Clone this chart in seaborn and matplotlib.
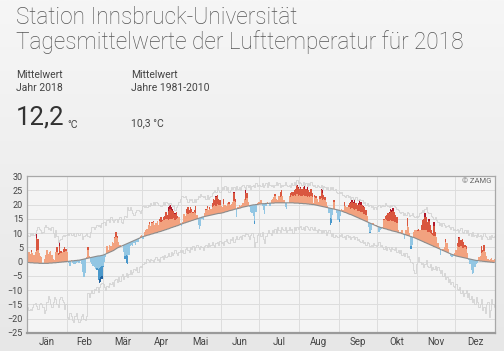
#! /usr/bin/python3
# -*- coding:utf-8 -*-
"""
Tagesmittelwerte der Lufttemperatur 2018, Station Innsbruck-Universität,
mit Klimamittel 1981-2010 und den höchsten / tiefsten Tagesmitteln.
"""
import numpy as np
import pandas as pd
import seaborn as sns
import matplotlib.pyplot as plt
from matplotlib.colors import LinearSegmentedColormap

months = ['Jän', 'Feb', 'Mär', 'Apr', 'Mai', 'Jun', 'Jul', 'Aug', 'Sep', 'Okt', 'Nov', 'Dez']
month_len = [31, 28, 31, 30, 31, 30, 31, 31, 30, 31, 30, 31]
y_ticks = list(range(-25, 31, 5))

# Tagesmittel 2018
temp_2018 = [
    3.0, 3.5, 2.8, 4.0, 3.2, 2.5, 3.5, 9.7, 8.0, 3.2, 2.0, 1.5, -1.0, 1.0, 2.5, 4.2, 2.7, 3.5, 3.9, 2.5, 1.0, 0.5, 3.5, 5.0, 3.0, 6.8, 3.8, 3.5, 4.5, 5.0, 4.5,  # Jän
    3.5, -0.5, -1.5, 0.5, -0.5, -1.0, -0.8, -0.5, 0.0, -0.5, 0.2, -1.0, -3.5, -5.3, -4.0, 1.5, 5.0, 2.0, 0.0, -1.0, -1.5, -2.0, -2.5, -3.0, -6.5, -7.6, -7.3, -6.0,  # Feb
    -2.0, 0.0, 1.5, 5.5, 4.0, 6.0, 5.5, 7.0, 6.5, 8.5, 10.5, 9.0, 7.0, 6.0, 5.5, 5.8, 3.5, 1.0, -0.5, -0.8, 2.5, 5.5, 6.0, 5.5, 6.5, 6.0, 7.0, 7.0, 7.8, 9.0, 9.5,  # Mär
    8.0, 10.5, 11.0, 11.5, 13.0, 13.8, 12.5, 14.0, 14.4, 13.0, 13.5, 14.2, 12.8, 15.0, 15.5, 14.5, 15.5, 16.0, 17.3, 16.5, 19.0, 19.8, 19.0, 18.5, 17.9, 17.0, 17.5, 16.0, 15.5, 13.5,  # Apr
    12.5, 14.0, 16.7, 16.0, 18.5, 19.0, 18.0, 19.2, 18.5, 17.5, 18.0, 19.6, 16.5, 13.0, 11.5, 12.5, 15.0, 14.5, 17.0, 18.5, 19.5, 18.0, 19.0, 18.5, 20.5, 22.0, 21.5, 23.0, 23.2, 22.0, 21.5,  # Mai
    19.5, 19.0, 22.0, 20.0, 19.5, 20.5, 20.8, 20.0, 20.2, 21.0, 24.3, 22.0, 15.5, 19.0, 20.0, 19.5, 20.0, 20.5, 22.0, 25.0, 24.0, 21.0, 19.0, 17.5, 17.0, 16.0, 13.3, 17.5, 20.5, 21.0,  # Jun
    21.0, 21.5, 19.5, 18.0, 16.7, 19.5, 21.0, 20.5, 19.5, 21.5, 22.0, 22.5, 23.7, 22.0, 21.5, 23.0, 24.5, 25.0, 23.0, 21.5, 19.0, 18.5, 20.5, 23.0, 24.0, 24.5, 24.5, 25.0, 25.5, 26.8, 26.0,  # Jul
    25.5, 26.0, 25.5, 26.0, 26.5, 25.5, 26.0, 25.0, 24.5, 25.5, 24.0, 20.5, 23.5, 23.0, 22.0, 21.0, 23.0, 25.5, 25.0, 23.5, 22.5, 21.0, 19.5, 17.0, 13.0, 13.5, 16.5, 21.5, 18.5, 17.0, 14.5,  # Aug
    13.9, 16.0, 18.5, 18.0, 21.0, 19.5, 19.0, 20.0, 20.5, 21.0, 21.6, 21.0, 21.5, 20.5, 20.0, 20.5, 21.5, 21.0, 20.0, 19.5, 19.0, 18.0, 16.0, 12.0, 10.0, 11.0, 13.5, 13.5, 13.0, 13.0,  # Sep
    12.5, 10.5, 11.0, 11.5, 12.0, 15.0, 16.0, 16.5, 17.0, 17.5, 18.5, 18.0, 18.7, 17.5, 16.5, 15.5, 11.0, 10.5, 10.5, 11.0, 9.5, 7.8, 11.0, 15.2, 12.0, 10.0, 4.5, 6.0, 10.5, 11.0, 11.0,  # Okt
    11.0, 11.5, 11.0, 13.0, 14.5, 15.0, 16.9, 15.5, 14.0, 15.0, 13.0, 11.0, 10.0, 14.0, 10.5, 8.5, 6.5, 5.0, 2.3, 4.0, 4.5, 5.0, 7.8, 6.5, 4.5, 3.0, 2.0, 1.5, 1.8, 3.0,  # Nov
    4.0, 6.5, 8.5, 8.8, 7.5, 8.0, 7.0, 6.0, 5.5, 3.0, 0.5, -1.0, -3.0, -4.5, -4.0, -2.0, -1.0, -0.5, 1.5, 2.0, 5.5, 4.0, 5.8, 3.5, 2.0, 1.0, 0.5, 1.0, 1.2, 0.5, 1.0,  # Dez
]

# Klimamittel 1981-2010
clim_mean = [
    -0.3, -0.3, -0.4, -0.4, -0.4, -0.5, -0.5, -0.5, -0.5, -0.6, -0.6, -0.6, -0.6, -0.6, -0.6, -0.6, -0.6, -0.5, -0.5, -0.5, -0.4, -0.4, -0.4, -0.3, -0.3, -0.2, -0.2, -0.1, -0.1, 0.0, 0.0,
    0.1, 0.1, 0.2, 0.2, 0.3, 0.3, 0.4, 0.4, 0.5, 0.5, 0.6, 0.7, 0.8, 0.9, 1.0, 1.1, 1.2, 1.3, 1.4, 1.5, 1.6, 1.7, 1.8, 1.9, 2.0, 2.0, 2.1, 2.2,
    2.3, 2.5, 2.7, 2.9, 3.1, 3.3, 3.5, 3.7, 3.9, 4.2, 4.5, 4.8, 5.0, 5.2, 5.4, 5.6, 5.8, 6.0, 6.2, 6.4, 6.6, 6.8, 7.0, 7.2, 7.4, 7.6, 7.8, 8.0, 8.2, 8.4, 8.6,
    8.8, 8.9, 9.0, 9.2, 9.3, 9.4, 9.6, 9.7, 9.8, 10.0, 10.1, 10.2, 10.4, 10.5, 10.6, 10.8, 10.9, 11.1, 11.2, 11.4, 11.5, 11.7, 11.9, 12.0, 12.2, 12.3, 12.5, 12.6, 12.8, 13.0,
    13.2, 13.3, 13.5, 13.6, 13.8, 13.9, 14.1, 14.2, 14.4, 14.5, 14.7, 14.8, 15.0, 15.1, 15.3, 15.4, 15.6, 15.7, 15.8, 15.9, 16.0, 16.1, 16.2, 16.3, 16.4, 16.5, 16.6, 16.7, 16.8, 16.9, 16.9,
    17.0, 17.1, 17.2, 17.4, 17.5, 17.6, 17.8, 17.9, 18.0, 18.1, 18.3, 18.4, 18.5, 18.6, 18.7, 18.8, 19.0, 19.1, 19.2, 19.3, 19.4, 19.5, 19.6, 19.7, 19.8, 19.9, 19.9, 20.0, 20.0, 20.1,
    20.2, 20.2, 20.3, 20.3, 20.3, 20.4, 20.4, 20.4, 20.5, 20.5, 20.5, 20.5, 20.6, 20.6, 20.6, 20.6, 20.6, 20.6, 20.6, 20.6, 20.6, 20.6, 20.6, 20.6, 20.6, 20.6, 20.6, 20.5, 20.5, 20.5, 20.5,
    20.4, 20.4, 20.4, 20.3, 20.3, 20.3, 20.2, 20.2, 20.1, 20.1, 20.0, 20.0, 19.9, 19.8, 19.7, 19.6, 19.5, 19.4, 19.3, 19.2, 19.1, 19.0, 18.9, 18.8, 18.7, 18.6, 18.5, 18.4, 18.3, 18.2, 18.1,
    18.0, 17.8, 17.7, 17.5, 17.3, 17.2, 17.0, 16.8, 16.6, 16.5, 16.3, 16.1, 15.9, 15.7, 15.5, 15.3, 15.1, 14.9, 14.7, 14.5, 14.3, 14.1, 13.9, 13.7, 13.5, 13.3, 13.1, 12.9, 12.7, 12.5,
    12.3, 12.2, 12.0, 11.9, 11.8, 11.6, 11.5, 11.4, 11.2, 11.1, 11.0, 10.8, 10.7, 10.6, 10.5, 10.4, 10.2, 10.1, 10.0, 9.8, 9.7, 9.5, 9.4, 9.2, 9.1, 8.9, 8.8, 8.6, 8.5, 8.3, 8.1,
    7.9, 7.7, 7.5, 7.3, 7.1, 6.9, 6.7, 6.5, 6.3, 6.1, 5.9, 5.7, 5.5, 5.3, 5.1, 4.9, 4.7, 4.5, 4.3, 4.1, 3.9, 3.7, 3.5, 3.3, 3.1, 2.9, 2.7, 2.5, 2.4, 2.2,
    2.0, 1.9, 1.8, 1.7, 1.6, 1.5, 1.4, 1.3, 1.2, 1.1, 1.0, 0.9, 0.8, 0.7, 0.6, 0.5, 0.4, 0.4, 0.3, 0.2, 0.2, 0.1, 0.1, 0.0, 0.0, -0.1, -0.1, -0.2, -0.2, -0.3, -0.3,
]

# höchstes Tagesmittel 1981-2010
clim_max = [
    9.5, 9, 10, 9.5, 10, 9.5, 10, 11, 12, 11.5, 11, 10, 10.5, 12, 13, 12, 11.5, 11.7, 11, 12, 10, 8.5, 11, 9, 7, 7.5, 8, 9, 9.5, 9, 9.5,
    10, 9.5, 10, 9.5, 9.5, 10, 9, 10, 10, 9.5, 10, 10, 8, 9, 9.5, 10, 9, 8.5, 10.5, 12, 12.3, 11.5, 12, 13, 12.5, 13, 12, 13.5,
    13.8, 14, 13, 14.5, 15, 14, 15.5, 14.5, 14, 14.5, 15, 14, 15, 15.5, 14, 13.5, 15, 16, 15.5, 19, 18, 19, 18, 17, 16.5, 17.5, 18, 18, 17.9, 17, 18,
    19.5, 19, 19.5, 19, 20, 19.5, 20.5, 20, 21, 20, 21, 20.5, 20, 20, 19.5, 20, 21, 20, 21, 20.5, 20, 20.5, 20, 19.5, 20, 18, 19, 20, 21, 22,
    23, 23, 22.5, 23, 22, 21, 22, 21.5, 22, 21, 22, 21, 22, 23, 22.5, 23.7, 23, 22.5, 23, 22, 23.5, 22, 22.5, 23, 24, 24.5, 25, 24.5, 26, 25, 24.5,
    25, 26, 25.5, 26.6, 25, 26, 24.3, 25, 26, 25.5, 26, 25, 26.5, 25.5, 26, 25, 26.5, 27, 26, 25.5, 27, 26, 27, 25.5, 26.5, 27, 26, 27.5, 26.5, 27,
    27, 26.5, 27.5, 26, 27, 27.5, 26, 28, 27, 26.5, 27, 26, 27, 28, 27, 27.5, 26, 27, 26.5, 27, 28, 27, 26.5, 27, 26, 27.5, 27, 28, 27, 28.5, 27.5,
    28, 27.5, 27, 28, 27, 27.5, 26.5, 27.5, 27, 28, 27, 26.5, 27, 26, 27, 26.5, 26, 27, 25.5, 26.5, 26, 25.5, 26, 25, 26, 25.5, 26.3, 25, 25.5, 24.5, 24,
    24.5, 24, 24.5, 23.5, 23, 22.8, 23.5, 22.5, 23, 22, 22.5, 22, 22, 22.5, 21.5, 21.5, 22, 21.5, 21.6, 20.5, 21, 20, 20.5, 19.5, 20, 19, 19.5, 18.5, 19, 18.5,
    19.5, 20, 19, 19.5, 20, 19.5, 20.5, 20, 19.5, 19, 20, 19.5, 20, 19.5, 19, 18.5, 18, 17.5, 17, 17.5, 16.5, 17, 16.5, 17.5, 17, 16, 16.5, 17, 16, 15.5, 16,
    15.5, 16, 17, 17.5, 18, 17.5, 18.5, 19, 17.5, 17, 17, 16, 15.5, 15, 15.5, 14.5, 14, 13, 13.5, 12.5, 13.4, 13, 12, 12.5, 13, 12, 11.5, 12, 11, 11.5,
    11, 11.5, 10.5, 11, 11.7, 10.5, 10, 11, 10, 11, 9.5, 10, 9, 10.5, 9, 9.5, 8.5, 10, 9, 9.5, 8, 9, 10, 9, 8.5, 8, 9, 8, 9.5, 8.5, 9,
]

# tiefstes Tagesmittel 1981-2010
clim_min = [
    -16, -17, -16.5, -17, -16, -15, -14.5, -15.5, -16.5, -15, -14.5, -15, -16, -18, -17, -14, -12, -13, -15, -16, -14, -12.5, -13, -15, -16, -13, -12.5, -13.5, -14, -16.5, -15,
    -19.5, -20, -18, -19, -20.5, -21, -19, -18, -20, -21, -20.5, -19, -18.5, -20, -20.5, -19, -11, -12.5, -11, -10, -11, -9.5, -10, -9, -10.5, -9, -8, -7.5,
    -8, -9, -10, -8.5, -9, -7.5, -8, -7, -8.5, -6.5, -6, -7, -5.5, -6.8, -5, -4.5, -6, -5, -4, -5.5, -4.5, -3, -4.3, -3.5, -2.5, -3, -2, -3.5, -2, -1.5, -2,
    -1, 0, -0.5, 1, 0.5, -0.2, 1, 0.5, 0, 1, 1.5, 0.5, 1, 0, 1.5, 2, 1, 2.5, 1.5, 2, 3, 2, 3.5, 2.5, 3, 4, 3, 2.5, 3.5, 4,
    3.5, 4, 3, 4.5, 5, 4, 3.5, 5, 4.5, 5.5, 4, 5, 6, 5, 4.5, 5.6, 5, 4, 5.5, 6, 5, 6.5, 5.5, 6, 7, 6, 5, 6.5, 7, 6, 7.3,
    6.5, 7, 6, 7.3, 8, 7, 6.5, 8, 7.5, 8.5, 7, 8, 9, 8, 8.5, 9, 8, 9.5, 9, 10, 9.7, 9, 8, 9.5, 10, 8.5, 5, 7, 9.5, 10,
    10, 9, 10.5, 8, 6.5, 9, 10, 11, 10, 9.5, 11, 10.5, 11.5, 10, 12, 11, 10.5, 12, 11.5, 11, 12, 10.5, 11, 12, 11, 11.5, 10, 12, 11, 12, 11.5,
    12, 12.5, 11.5, 12, 11, 12.5, 12, 11.5, 11, 12, 11.5, 11, 12, 11, 10.5, 11.5, 11, 10, 11, 10.5, 11, 9.5, 10.5, 11, 10, 9, 10, 8.5, 9.5, 9, 8.5,
    9.5, 9, 9.7, 8.5, 9, 8, 9.5, 8.5, 9, 8, 8.5, 9, 8, 8.5, 7.5, 8, 7.3, 7, 7.5, 6.5, 7, 6, 7, 6.5, 5.6, 6, 5.5, 6.5, 6, 5.6,
    6, 7, 5.5, 6, 5, 4.5, 5.5, 4, 5, 4.5, 3.7, 5, 4.5, 4, 5, 3.5, 4, 3, 4, 2.5, 3, 2, 3, 1.5, 2, 1, 0, -0.5, -3, -4, -1,
    0, 1.6, 0, -1, -0.5, -2, -1, 0.5, -1.5, -2, -1, -3, -2, -2.5, -1.5, -3, -2, -3, -4, -3, -5, -4, -6, -5.5, -7, -6, -8, -7, -8.5, -9,
    -8, -9.5, -10, -9, -11, -10, -12, -11, -10, -12.5, -11, -13, -12, -14, -13, -15, -12.5, -14, -16, -15, -13, -17, -16, -18, -15, -14, -19.4, -17, -13, -15, -16,
]

warm_colors = ['#f2a27f', '#d9563f', '#b0162a']
cold_colors = ['#92c6e3', '#4a98cb', '#21629f']
band_edges = [(0.0, 0.38), (0.38, 0.75), (0.75, 99.0)]

df = pd.DataFrame({
    'tag': np.arange(len(temp_2018)) + 0.5,
    'wert': temp_2018,
    'mittel': clim_mean,
    'hoch': clim_max,
    'tief': clim_min,
})
spread_up = df['hoch'] - df['mittel']
spread_dn = df['mittel'] - df['tief']

sns.set_style('white')
plt.rcParams['font.family'] = ['Roboto', 'DejaVu Sans']

fig = plt.figure(figsize=(5.04, 3.51), dpi=100)

# heller Hintergrundverlauf
bg = fig.add_axes([0, 0, 1, 1], zorder=-10)
bg_cmap = LinearSegmentedColormap.from_list('bg', ['#f6f6f6', '#e7e7e7'])
bg.imshow(np.linspace(0, 1, 256).reshape(-1, 1), aspect='auto', cmap=bg_cmap, extent=[0, 1, 0, 1])
bg.axis('off')

ax = fig.add_axes([27 / 504, 1 - 333 / 351, 468 / 504, 157 / 351])
ax.set_facecolor('#f4f4f4')
ax.set_axisbelow(True)

# Abweichungen vom Klimamittel, gestuft nach Anteil an der Spannweite
for (f0, f1), col in zip(band_edges, warm_colors):
    lo = df['mittel'] + f0 * spread_up
    hi = np.minimum(df['wert'], df['mittel'] + f1 * spread_up)
    ax.bar(df['tag'], (hi - lo).clip(lower=0), bottom=lo, width=1.0, color=col, linewidth=0)
for (f0, f1), col in zip(band_edges, cold_colors):
    hi = df['mittel'] - f0 * spread_dn
    lo = np.maximum(df['wert'], df['mittel'] - f1 * spread_dn)
    ax.bar(df['tag'], (hi - lo).clip(lower=0), bottom=lo, width=1.0, color=col, linewidth=0)

sns.lineplot(data=df, x='tag', y='hoch', color='#d2d2d2', lw=0.6, drawstyle='steps-mid', ax=ax)
sns.lineplot(data=df, x='tag', y='tief', color='#d2d2d2', lw=0.6, drawstyle='steps-mid', ax=ax)
sns.lineplot(data=df, x='tag', y='mittel', color='#8c8c8c', lw=0.8, ax=ax)

starts = np.cumsum([0] + month_len[:-1])
centers = starts + np.array(month_len) / 2
ax.set_xlim(0, 365)
ax.set_ylim(-25, 30)
ax.set_xticks(centers, months)
ax.set_xticks(starts[1:], minor=True)
ax.set_yticks(y_ticks)
ax.grid(which='minor', axis='x', color='#dddddd', lw=0.7)
ax.grid(which='major', axis='y', color='#dddddd', lw=0.7)
ax.tick_params(axis='x', which='both', length=0, labelsize=7, colors='#444444', pad=3)
ax.tick_params(axis='y', length=0, labelsize=6.5, colors='#444444', pad=3)
ax.set_xlabel('')
ax.set_ylabel('')
for side in ['left', 'right', 'top']:
    ax.spines[side].set_color('#a8a8a8')
    ax.spines[side].set_linewidth(0.9)
ax.spines['bottom'].set_color('#9a9a9a')
ax.spines['bottom'].set_linewidth(1.6)

ax.text(0.993, 0.985, '© ZAMG', transform=ax.transAxes, ha='right', va='top', fontsize=5.5, color='#666666')


def fy(px):
    return 1 - px / 351


head = dict(color='#555555', fontweight='light', va='top')
fig.text(16 / 504, fy(6), 'Station Innsbruck-Universität', fontsize=16.3, **head)
fig.text(16 / 504, fy(30), 'Tagesmittelwerte der Lufttemperatur für 2018', fontsize=16.3, **head)
small = dict(color='#444444', fontsize=7.5, va='top')
fig.text(16 / 504, fy(70), 'Mittelwert', **small)
fig.text(16 / 504, fy(83), 'Jahr 2018', **small)
fig.text(131 / 504, fy(70), 'Mittelwert', **small)
fig.text(131 / 504, fy(83), 'Jahre 1981-2010', **small)
fig.text(16 / 504, fy(106), '12,2', color='#333333', fontsize=18.5, va='top')
fig.text(67 / 504, fy(120), '°C', color='#444444', fontsize=7.5, va='top')
fig.text(131 / 504, fy(118), '10,3 °C', color='#444444', fontsize=7.5, va='top')

fig.savefig('out.png', dpi=100)
